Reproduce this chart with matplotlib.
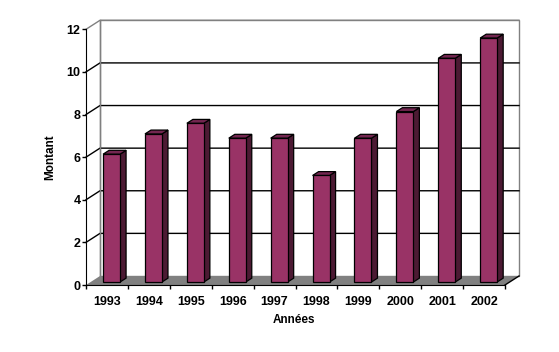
import matplotlib
matplotlib.use("Agg")
import matplotlib.pyplot as plt
from matplotlib.patches import Polygon

plt.rcParams['font.family'] = ['Liberation Sans', 'DejaVu Sans']
plt.rcParams['font.weight'] = 'bold'

# data
years = ['1993', '1994', '1995', '1996', '1997', '1998', '1999', '2000', '2001', '2002']
montant = [6.0, 6.95, 7.45, 6.75, 6.75, 5.0, 6.75, 8.0, 10.5, 11.45]
y_ticks = [0, 2, 4, 6, 8, 10, 12]

# pseudo 3d look (Excel style)
front_col = '#993366'
side_col = '#4C1A33'
top_col = '#732650'
floor_col = '#808080'
wall_edge = '#808080'

fig = plt.figure(figsize=(5.59, 3.52), dpi=100)
W, H = 559, 352
x_left, x_right = 86, 505
y_zero, y_top = 285, 29.3
ax = fig.add_axes([x_left / W, (H - y_zero) / H, (x_right - x_left) / W, (y_zero - y_top) / H])

n = len(years)
ax.set_xlim(-0.5, n - 0.5)
ax.set_ylim(0, 12)
px_x = (x_right - x_left) / n
px_y = (y_zero - y_top) / 12
DX = 14 / px_x   # depth offset in data units
DY = 9 / px_y

xl, xr = -0.5, n - 0.5

# back wall
ax.add_patch(Polygon([(xl + DX, DY), (xr + DX, DY), (xr + DX, 12 + DY), (xl + DX, 12 + DY)],
                     closed=True, facecolor='white', edgecolor=wall_edge, lw=1, clip_on=False, zorder=1))
# floor
ax.add_patch(Polygon([(xl, 0), (xr, 0), (xr + DX, DY), (xl + DX, DY)],
                     closed=True, facecolor=floor_col, edgecolor='none', clip_on=False, zorder=2))
ax.plot([xr, xr + DX], [0, DY], color='black', lw=1, clip_on=False, zorder=2)

# gridlines on left wall + back wall
for v in y_ticks[1:]:
    c = wall_edge if v == 12 else 'black'
    ax.plot([xl, xl + DX, xr + DX], [v, v + DY, v + DY], color=c, lw=1, clip_on=False, zorder=1.5)
ax.plot([xl + DX, xl + DX], [DY, 12 + DY], color=wall_edge, lw=1, clip_on=False, zorder=1.5)

# bars
f0, f1 = 0.33, 0.76
w = 0.405
xs = [i + f0 * DX for i in range(n)]
ddx, ddy = (f1 - f0) * DX, (f1 - f0) * DY
base = f0 * DY
ax.bar(xs, montant, width=w, bottom=base, color=front_col, edgecolor='black', lw=0.9, zorder=4)
for x, v in zip(xs, montant):
    x0, x1 = x - w / 2, x + w / 2
    ax.add_patch(Polygon([(x1, base), (x1 + ddx, base + ddy), (x1 + ddx, base + v + ddy), (x1, base + v)],
                         closed=True, facecolor=side_col, edgecolor='black', lw=0.9, zorder=3, clip_on=False))
    ax.add_patch(Polygon([(x0, base + v), (x1, base + v), (x1 + ddx, base + v + ddy), (x0 + ddx, base + v + ddy)],
                         closed=True, facecolor=top_col, edgecolor='black', lw=0.9, zorder=3, clip_on=False))

ax.set_facecolor('none')
for s in ['top', 'right']:
    ax.spines[s].set_visible(False)
ax.spines['left'].set_zorder(5)
ax.spines['bottom'].set_zorder(5)

ax.set_xticks(range(n))
ax.set_xticklabels(years, fontsize=9, fontweight='bold')
ax.set_xticks([i - 0.5 for i in range(n + 1)], minor=True)
ax.tick_params(axis='x', which='major', length=0, pad=8)
ax.tick_params(axis='x', which='minor', length=3, width=1, direction='out')
ax.set_yticks(y_ticks)
ax.set_yticklabels([str(t) for t in y_ticks], fontsize=9, fontweight='bold')
ax.tick_params(axis='y', length=3, width=1, pad=1)

fig.text(50 / W, 1 - 157 / H, 'Montant', rotation=90, ha='center', va='center', fontsize=8.5, fontweight='bold')
fig.text(294 / W, 1 - 320 / H, 'Années', ha='center', va='center', fontsize=8.5, fontweight='bold')

fig.savefig('out.png', dpi=100)
